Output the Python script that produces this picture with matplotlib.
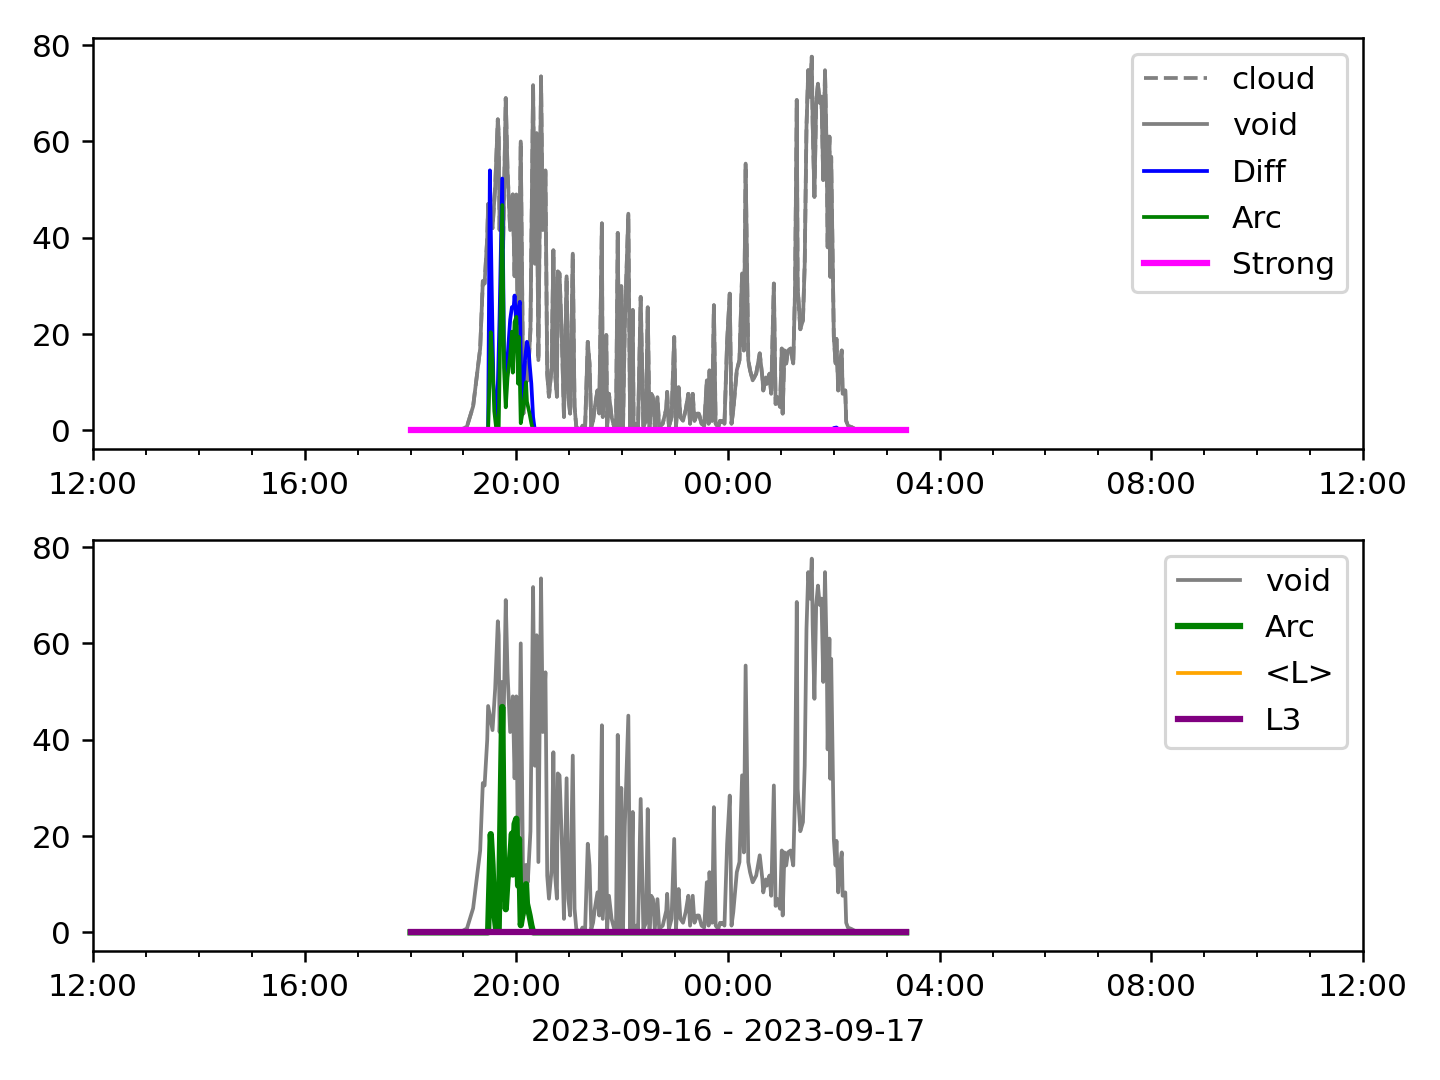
import datetime as dt
import matplotlib
matplotlib.use("Agg")
import matplotlib.pyplot as plt
import matplotlib.dates as mdates

# void / cloud signal (time, value)
void_times = [
    "18:00", "18:56", "19:04", "19:11", "19:19", "19:22", "19:24", "19:27", "19:28", "19:33",
    "19:36", "19:39", "19:40", "19:41", "19:43", "19:45", "19:48", "19:50", "19:53", "19:56",
    "19:58", "20:00", "20:02", "20:05", "20:08", "20:11", "20:13", "20:16", "20:19", "20:21",
    "20:23", "20:25", "20:28", "20:30", "20:33", "20:35", "20:37", "20:40", "20:42", "20:44",
    "20:46", "20:47", "20:49", "20:52", "20:54", "20:57", "20:59", "21:01", "21:04", "21:06",
    "21:08", "21:12", "21:15", "21:18", "21:21", "21:23", "21:25", "21:27", "21:29", "21:32",
    "21:34", "21:37", "21:38", "21:42", "21:43", "21:45", "21:48", "21:51", "21:53", "21:55",
    "21:57", "21:59", "22:01", "22:03", "22:07", "22:09", "22:12", "22:13", "22:16", "22:18",
    "22:21", "22:24", "22:27", "22:29", "22:31", "22:33", "22:35", "22:37", "22:40", "22:42",
    "22:46", "22:50", "22:51", "22:53", "22:56", "22:59", "23:01", "23:04", "23:06", "23:09",
    "23:12", "23:15", "23:17", "23:20", "23:22", "23:25", "23:27", "23:30", "23:33", "23:36",
    "23:38", "23:39", "23:42", "23:44", "23:46", "23:49", "23:51", "23:53", "23:54", "23:56",
    "23:59", "00:02", "00:04", "00:06", "00:08", "00:10", "00:13", "00:16", "00:18", "00:20",
    "00:23", "00:25", "00:28", "00:32", "00:36", "00:39", "00:40", "00:43", "00:44", "00:47",
    "00:49", "00:52", "00:54", "00:56", "00:59", "01:01", "01:02", "01:04", "01:06", "01:08",
    "01:11", "01:14", "01:16", "01:18", "01:19", "01:22", "01:25", "01:27", "01:29", "01:31",
    "01:33", "01:35", "01:36", "01:38", "01:40", "01:42", "01:44", "01:46", "01:48", "01:50",
    "01:52", "01:53", "01:55", "01:56", "01:57", "01:59", "02:00", "02:02", "02:03", "02:05",
    "02:07", "02:09", "02:10", "02:13", "02:14", "02:16", "02:20", "02:24", "02:30", "03:22",
]
void_values = [
    0, 0, 0.8, 5, 17, 31, 30.5, 40, 47, 42,
    50.6, 64.6, 61.7, 41.6, 52, 38, 69, 54, 41.6, 49,
    32, 49, 13, 60, 3.5, 14, 10.4, 21, 71.7, 34.6,
    61.7, 14.6, 73.5, 41.6, 54, 11.8, 7, 13, 37.4, 11.8,
    7, 33, 32.6, 16.6, 2.8, 32, 7, 3.5, 36.7, 4.9,
    0.7, 0, 1, 0.7, 18.4, 13.9, 0.7, 2, 4.9, 8.3,
    3.5, 43, 2.8, 19.8, 0.7, 7.6, 2.8, 0.7, 0.7, 41,
    0.7, 30, 0.7, 22, 45, 0.7, 25, 0.7, 1.4, 0.7,
    27.7, 0.7, 2, 25.6, 0.7, 7.6, 6.9, 0.7, 6.9, 0.7,
    1.4, 4.5, 8, 0.7, 2.8, 19.4, 0.7, 9, 2.8, 2,
    4.2, 7.6, 1.4, 7.6, 2, 3.5, 3.5, 1.4, 1, 10.4,
    1.4, 12.5, 2, 26, 1.4, 0.7, 2, 1.7, 2, 1.4,
    18.4, 28.4, 1.4, 4.2, 8.3, 12.5, 14.6, 32.6, 16.6, 55.4,
    14.6, 12.5, 10.4, 11.8, 16, 11, 8.3, 11, 9.7, 11.8,
    7.6, 30.5, 5.5, 6.9, 4.9, 17, 3.5, 16.6, 13.9, 16.6,
    17, 13.9, 29, 68.6, 29.8, 21, 22.9, 34.6, 63, 74.8,
    69.3, 77.6, 63.8, 48.5, 68, 72, 68, 69.3, 52, 74.8,
    56.8, 38, 61, 31.9, 56.8, 31.5, 19.4, 13.9, 19, 8.3,
    13.9, 16.6, 7.6, 8.3, 2, 1, 0.7, 0.3, 0, 0,
]

diff_times = [
    "18:00", "19:28", "19:30", "19:32", "19:34", "19:37", "19:38", "19:41", "19:44", "19:46",
    "19:48", "19:50", "19:53", "19:55", "19:57", "19:58", "20:00", "20:02", "20:04", "20:06",
    "20:08", "20:10", "20:12", "20:14", "20:15", "20:17", "20:19", "20:21", "01:59", "02:00",
    "02:03", "02:05", "02:06", "03:22",
]
diff_values = [
    0, 0, 54, 30.5, 9.7, 2.8, 2, 23.6, 52.3, 16.6,
    10.4, 15, 23, 25.6, 25.6, 28, 22, 25, 26.7, 4,
    9.7, 15, 18.4, 16.6, 13.9, 9.7, 2.8, 0, 0, 0.5,
    0.6, 0.3, 0, 0,
]

arc_times = [
    "18:00", "19:28", "19:31", "19:33", "19:35", "19:37", "19:40", "19:44", "19:46", "19:48",
    "19:50", "19:53", "19:55", "19:56", "19:58", "20:00", "20:02", "20:03", "20:05", "20:08",
    "20:11", "20:12", "20:15", "20:17", "20:19", "03:22",
]
arc_values = [
    0, 0, 20.4, 14, 4, 0.7, 0.7, 46.8, 13, 4.8,
    11, 15.5, 20.5, 12, 22.5, 23.6, 9.7, 19.4, 1.5, 4.8,
    10, 6, 3.5, 1.5, 0, 0,
]

# flat series over the whole record
flat_times = ["18:00", "03:22"]
strong_values = [0, 0]
lavg_values = [0, 0]
l3_values = [0, 0]


def to_dt(hhmm):
    h, m = map(int, hhmm.split(":"))
    day = 16 if h >= 12 else 17
    return dt.datetime(2023, 9, day, h, m)


void_t = [to_dt(s) for s in void_times]
diff_t = [to_dt(s) for s in diff_times]
arc_t = [to_dt(s) for s in arc_times]
flat_t = [to_dt(s) for s in flat_times]

fig, (ax1, ax2) = plt.subplots(2, 1, figsize=(6.4, 4.8), dpi=225)
fig.subplots_adjust(left=0.0646, right=0.9465, top=0.9648, bottom=0.1194, hspace=0.221)

thin = 1.2
ax1.plot(void_t, void_values, color="grey", linestyle="--", linewidth=thin, label="cloud")
ax1.plot(void_t, void_values, color="grey", linewidth=thin, label="void")
ax1.plot(diff_t, diff_values, color="blue", linewidth=thin, label="Diff")
ax1.plot(arc_t, arc_values, color="green", linewidth=thin, label="Arc")
ax1.plot(flat_t, strong_values, color="magenta", linewidth=2, label="Strong")
ax1.legend(loc="upper right", labelspacing=0.55)

ax2.plot(void_t, void_values, color="grey", linewidth=thin, label="void")
ax2.plot(arc_t, arc_values, color="green", linewidth=2, label="Arc")
ax2.plot(flat_t, lavg_values, color="orange", linewidth=thin, label="<L>")
ax2.plot(flat_t, l3_values, color="purple", linewidth=2, label="L3")
ax2.legend(loc="upper right", labelspacing=0.55)
ax2.set_xlabel("2023-09-16 - 2023-09-17", labelpad=5)

for ax in (ax1, ax2):
    ax.set_xlim(dt.datetime(2023, 9, 16, 12), dt.datetime(2023, 9, 17, 12))
    ax.xaxis.set_major_locator(mdates.HourLocator(interval=4))
    ax.xaxis.set_minor_locator(mdates.HourLocator())
    ax.xaxis.set_major_formatter(mdates.DateFormatter("%H:%M"))
    ax.set_yticks([0, 20, 40, 60, 80])

plt.savefig("out.png")
